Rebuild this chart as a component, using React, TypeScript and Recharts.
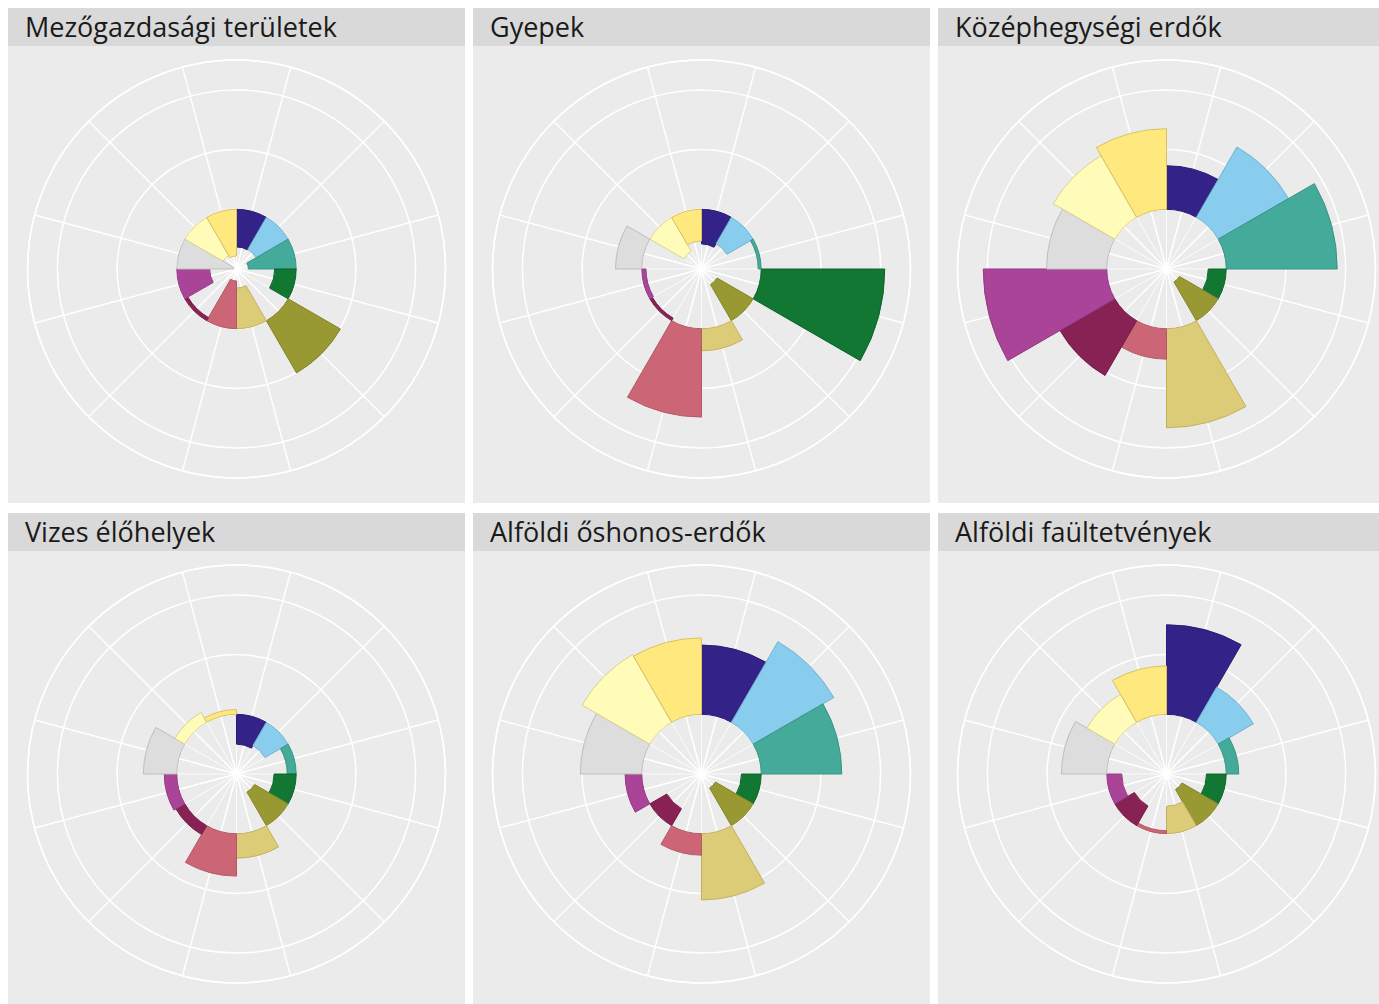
import React from 'react';
import {
  RadialBarChart,
  RadialBar,
  PolarGrid,
  PolarAngleAxis,
  PolarRadiusAxis,
  Cell,
} from 'recharts';

// 12 categories, clockwise from 12 o'clock
const categories = ['A', 'B', 'C', 'D', 'E', 'F', 'G', 'H', 'I', 'J', 'K', 'L'];

const panelTitles = [
  'Mezőgazdasági területek',
  'Gyepek',
  'Középhegységi erdők',
  'Vizes élőhelyek',
  'Alföldi őshonos-erdők',
  'Alföldi faültetvények',
];

// values relative to the baseline circle (0); centre is -1
const mezogazdasagi = [-0.63, -0.62, -0.8, -0.36, 1.01, -0.68, -0.8, -0.06, -0.55, -0.95, -0.74, -0.78];
const gyepek = [-0.58, -0.51, -0.05, 2.07, -0.7, 0.37, 1.48, -0.05, -0.07, 0.44, -0.66, -0.53];
const kozephegysegi = [0.73, 1.36, 1.86, -0.3, -0.75, 1.66, 0.51, 1.06, 2.07, 1.01, 1.19, 1.35];
const vizes = [-0.5, -0.45, -0.15, -0.37, -0.65, 0.41, 0.71, 0.17, 0.21, 0.56, 0.19, 0.08];
const alfoldiOshonos = [1.16, 1.56, 1.35, -0.33, -0.73, 1.11, 0.36, -0.33, 0.28, 1.03, 1.31, 1.28];
const alfoldiFaultetveny = [1.5, 0.68, 0.21, -0.33, -0.7, -0.46, -0.05, -0.38, -0.25, 0.76, 0.54, 0.81];

const panelValues = [mezogazdasagi, gyepek, kozephegysegi, vizes, alfoldiOshonos, alfoldiFaultetveny];

// recharts rounds the radius domain to whole ticks, so keep it whole: [-1, 3]
const radiusDomain = [-1, 3];
const radiusTicks = [-1, 0, 1, 2, 2.5];
const outerTick = 2.5;

const colors = [
  '#332288', '#88CCEE', '#44AA99', '#117733', '#999933', '#DDCC77',
  '#CC6677', '#882255', '#AA4499', '#DDDDDD', '#FFFBB8', '#FFE97F',
];
const strokes = [
  '#2A1C70', '#74B2D0', '#3A9383', '#0E632B', '#83832B', '#C2B060',
  '#B15A67', '#741D48', '#933A84', '#BDBDBD', '#D9D290', '#D6C265',
];

const PANEL = 457;
const STRIP = 38;
const CX = 228.5;
const CY = 223;
const UNIT = 59.7; // px per value unit
const SPAN = radiusDomain[1] - radiusDomain[0];
const SCALE_R = UNIT * SPAN;
const OUTER_R = UNIT * (outerTick - radiusDomain[0]);
const BASE_R = UNIT * (0 - radiusDomain[0]);
const STEP = 360 / categories.length;

// spokes through the middle of each sector, and finer ones inside the baseline disc
const centreAngles = categories.map((_, i) => 90 - (i + 0.5) * STEP);
const innerAngles = categories.flatMap((_, i) => [90 - i * STEP, 90 - (i + 0.5) * STEP]);

const layer: React.CSSProperties = { position: 'absolute', left: 0, top: 0 };

type Row = { name: string; range: number[] };

function chartProps(data: Row[]) {
  return {
    width: PANEL,
    height: PANEL,
    data,
    cx: CX,
    cy: CY,
    innerRadius: 0,
    startAngle: 90 - STEP,
    endAngle: 90 - STEP - 360,
    layout: 'centric' as const,
    barCategoryGap: 0,
    margin: { top: 0, right: 0, bottom: 0, left: 0 },
  };
}

function SpokeLayer({ data, radius, angles, width, opacity }: {
  data: Row[]; radius: number; angles: number[]; width: number; opacity: number;
}) {
  return (
    <div style={layer}>
      <RadialBarChart {...chartProps(data)} outerRadius={radius}>
        <PolarGrid
          gridType="circle"
          stroke="#FFFFFF"
          strokeWidth={width}
          strokeOpacity={opacity}
          polarAngles={angles}
          polarRadius={[radius]}
        />
        <PolarAngleAxis type="category" dataKey="name" tick={false} axisLine={false} tickLine={false} />
        <PolarRadiusAxis type="number" domain={[0, 1]} tick={false} axisLine={false} tickLine={false} />
      </RadialBarChart>
    </div>
  );
}

function RosePanel({ title, values, left, top }: { title: string; values: number[]; left: number; top: number }) {
  const data: Row[] = categories.map((name, i) => ({
    name,
    range: [Math.min(0, values[i]), Math.max(0, values[i])],
  }));

  return (
    <div style={{ position: 'absolute', left, top, width: PANEL }}>
      <div
        style={{
          height: STRIP,
          lineHeight: `${STRIP}px`,
          background: '#D9D9D9',
          paddingLeft: 17,
          fontFamily: '"Open Sans", Lato, sans-serif',
          fontSize: 27,
          color: '#1A1A1A',
          whiteSpace: 'nowrap',
        }}
      >
        {title}
      </div>
      <div style={{ position: 'relative', background: '#EBEBEB', width: PANEL, height: PANEL, overflow: 'hidden' }}>
        <SpokeLayer data={data} radius={OUTER_R} angles={centreAngles} width={1.5} opacity={1} />
        <SpokeLayer data={data} radius={BASE_R} angles={innerAngles} width={1} opacity={0.85} />
        <div style={layer}>
          <RadialBarChart {...chartProps(data)} outerRadius={SCALE_R}>
            <PolarGrid gridType="circle" stroke="#FFFFFF" strokeWidth={1.5} radialLines={false} />
            <PolarAngleAxis type="category" dataKey="name" tick={false} axisLine={false} tickLine={false} />
            <PolarRadiusAxis
              type="number"
              domain={radiusDomain}
              ticks={radiusTicks}
              tick={false}
              axisLine={false}
              tickLine={false}
            />
            <RadialBar dataKey="range" isAnimationActive={false}>
              {data.map((d, i) => (
                <Cell key={d.name} fill={colors[i]} stroke={strokes[i]} strokeWidth={1} />
              ))}
            </RadialBar>
          </RadialBarChart>
        </div>
      </div>
    </div>
  );
}

export default function App() {
  return (
    <>
      <style>{'body{margin:0;overflow:hidden;background:#fff}'}</style>
      <div style={{ position: 'relative', margin: 8, width: 1371, height: 996, overflow: 'hidden' }}>
        {panelTitles.map((title, i) => (
          <RosePanel
            key={title}
            title={title}
            values={panelValues[i]}
            left={(i % 3) * 465}
            top={Math.floor(i / 3) * 505}
          />
        ))}
      </div>
    </>
  );
}
